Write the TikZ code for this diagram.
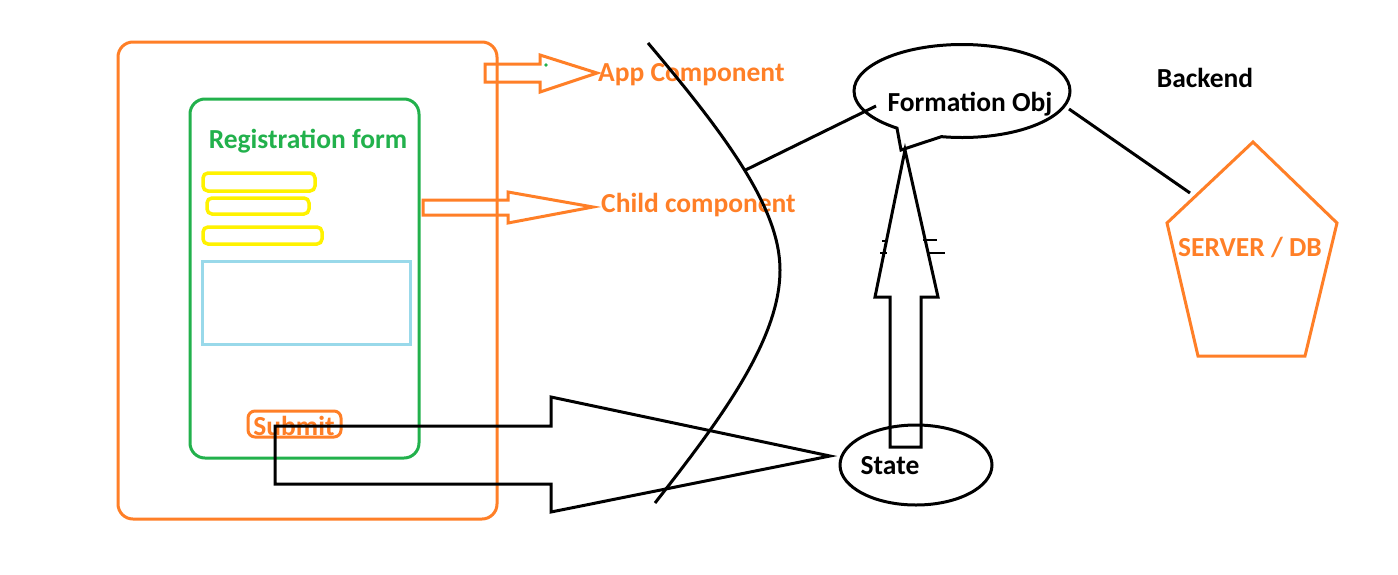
\documentclass[tikz,border=0pt]{standalone}
\usepackage{fontspec}
\setmainfont{Carlito}
\usetikzlibrary{shapes.geometric,shapes.callouts,positioning}

\definecolor{paintorange}{HTML}{FF7F27}
\definecolor{paintgreen}{HTML}{22B14C}
\definecolor{paintyellow}{HTML}{FFF200}
\definecolor{paintblue}{HTML}{99D9EA}

\tikzset{
  lbl/.style={font=\bfseries\fontsize{27.5}{31}\selectfont, inner sep=0pt},
  box/.style={draw, line width=3pt, rounded corners=#1, inner sep=0pt},
  box/.default=15pt
}

\begin{document}
\begin{tikzpicture}[
    x=1pt, y=-1pt,
    pen/.style={draw=black, line width=3pt, line join=miter},
    orangepen/.style={draw=paintorange, line width=3pt, line join=miter}
]
\useasboundingbox[fill=white] (0,0) rectangle (1398,574);

% component boxes
\node[box, draw=paintorange, minimum width=379pt, minimum height=477pt] (app) at (307.5,280.5) {};
\node[box, draw=paintgreen, minimum width=229pt, minimum height=359pt] (form) at (304.5,278.5) {};
\node[lbl, text=paintgreen] (formlbl) at (308,141) {Registration form};

\foreach \cx/\cy/\w/\h [count=\i] in {259/182/112/18, 258/206/102/16, 262.5/235.5/119/17}{
  \node[box=5pt, draw=paintyellow, line width=3.5pt, minimum width=\w pt, minimum height=\h pt] (field\i) at (\cx,\cy) {};
}
\node[draw=paintblue, line width=3pt, minimum width=208pt, minimum height=83pt] (textarea) at (306,302.5) {};

\node[box=7pt, draw=paintorange, minimum width=93pt, minimum height=26pt] (submit) at (294.5,424) {};
\node[lbl, text=paintorange] (submitlbl) at (294,426) {Submit};

% arrows to the labels
\draw[orangepen] (485,64) -- (540,64) -- (540,55) -- (597,73) -- (540,92) -- (540,82) -- (485,82) -- cycle;
\fill[paintgreen] (546,65) circle (1.8);
\node[lbl, text=paintorange, anchor=west] (applbl) at (598,75) {App Component};

\draw[orangepen] (423,200) -- (508,200) -- (508,192) -- (593,207) -- (508,223) -- (508,215) -- (423,215) -- cycle;
\node[lbl, text=paintorange, anchor=west] (childlbl) at (601,205) {Child component};

% boundary curve
\draw[pen] (648,43) .. controls (730,140) and (780,210) .. coordinate[pos=0.5] (cv) (780,270)
           .. controls (780,340) and (720,420) .. (655,503);

% front end objects
\node[ellipse callout, pen, minimum width=216pt, minimum height=93pt,
      callout absolute pointer={(901,150)}, callout pointer arc=26] (fobj) at (962,91) {};
\node[lbl] (fobjlbl) at (970,104) {Formation Obj};
\coordinate (fobjin) at (876,106);
\draw[pen] (cv) -- (fobjin);

\node[ellipse, pen, minimum width=152pt, minimum height=80pt] (state) at (916,465) {};
\node[lbl] (statelbl) at (890,466) {State};

% submit to state
\draw[pen] (275,426) -- (551,426) -- (551,397) -- (830,456) -- (551,512) -- (551,484) -- (275,484) -- cycle;

% state up to formation obj
\draw[pen] (890,447) -- (890,297) -- (875,297) -- (905,150) -- (938,297) -- (921,297) -- (921,447) -- cycle;
\foreach \xa/\xb/\yy in {882/888/241, 880/887/253, 923/937/240, 927/945/253}{
  \draw[line width=1.5pt] (\xa,\yy) -- (\xb,\yy);
}

% backend
\node[lbl] (backendlbl) at (1205,78) {Backend};
\coordinate (pa) at (1253,142);
\coordinate (pb) at (1337,223);
\coordinate (pc) at (1305,356);
\coordinate (pd) at (1198,356);
\coordinate (pe) at (1167,223);
\draw[orangepen] (pa) -- (pb) -- (pc) -- (pd) -- (pe) -- cycle;
\node[lbl, text=paintorange] (serverlbl) at (1250,247) {SERVER / DB};

\coordinate (fobjout) at (1069,109);
\coordinate (serverin) at (1190,193);
\draw[pen] (fobjout) -- (serverin);

\end{tikzpicture}
\end{document}
